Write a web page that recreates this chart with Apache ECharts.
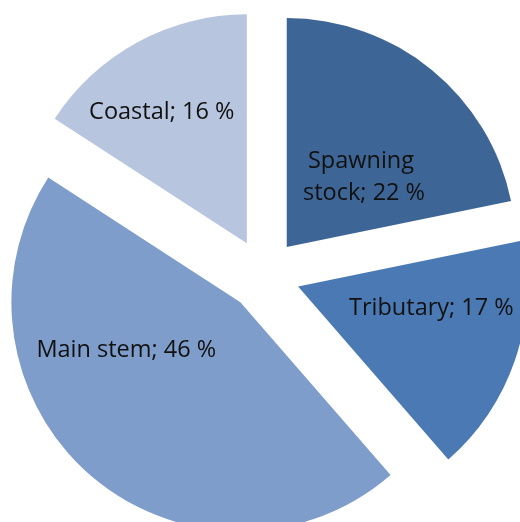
<!DOCTYPE html>
<html>
<head>
<meta charset="utf-8">
<style>
    html, body { margin: 0; padding: 0; background: #fff; }
    #chart { width: 520px; height: 522px; }
</style>
<script src="https://cdn.jsdelivr.net/npm/echarts@6/dist/echarts.min.js"></script>
</head>
<body>
<div id="chart"></div>
<script>
// data
const categories = ['Spawning stock', 'Tributary', 'Main stem', 'Coastal'];
const shares = [22, 17, 46, 16];
const sliceColors = ['#3d6596', '#4a79b3', '#7f9dca', '#b7c5df'];
// small nudges so labels sit where the original put them
const labelShift = [[3, 21], [22, -16], [-37, -41], [-29, -28]];

let myChart = echarts.init(document.getElementById('chart'));

myChart.setOption({
    animation: false,
    series: [
        {
            type: 'pie',
            center: [264, 275],
            radius: [0, 229],
            startAngle: 90,
            clockwise: true,
            selectedMode: 'multiple',
            selectedOffset: 36,
            avoidLabelOverlap: false,
            emphasis: { disabled: true },
            label: {
                show: true,
                position: 'inside',
                formatter: '{b}; {c} %',
                color: '#111',
                fontFamily: 'Open Sans',
                fontSize: 23.5,
                lineHeight: 32
            },
            labelLine: { show: false },
            labelLayout: function (params) {
                const s = labelShift[params.dataIndex];
                return { dx: s[0], dy: s[1] };
            },
            data: categories.map(function (name, i) {
                const item = {
                    name: name,
                    value: shares[i],
                    selected: true,
                    itemStyle: { color: sliceColors[i] }
                };
                if (i === 0) {
                    item.label = { width: 150, overflow: 'break' };
                }
                return item;
            })
        }
    ]
});
</script>
</body>
</html>
